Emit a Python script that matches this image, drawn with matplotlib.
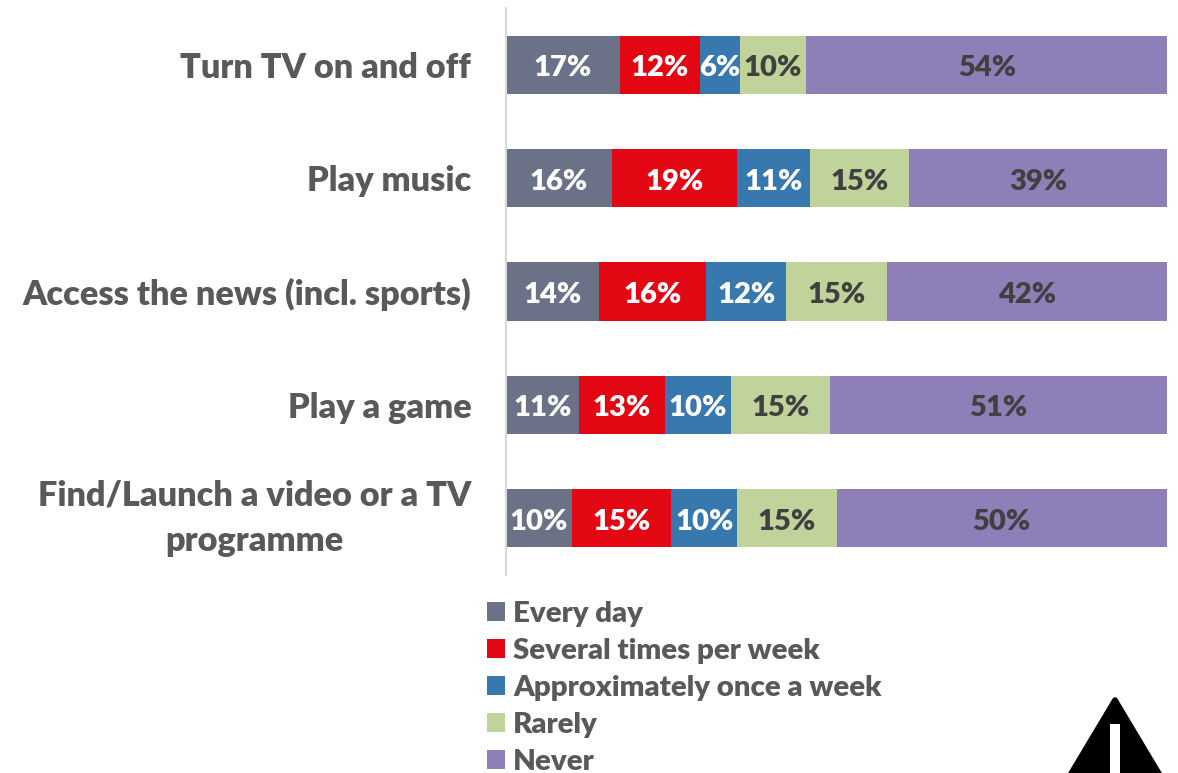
import matplotlib.pyplot as plt
from matplotlib.patches import Polygon, Rectangle
import numpy as np

plt.rcParams['font.family'] = ['Lato', 'DejaVu Sans']
plt.rcParams['font.weight'] = 'heavy'

categories = ['Turn TV on and off', 'Play music', 'Access the news (incl. sports)',
              'Play a game', 'Find/Launch a video or a TV\nprogramme']
series_names = ['Every day', 'Several times per week', 'Approximately once a week', 'Rarely', 'Never']
every_day = [17, 16, 14, 11, 10]
several = [12, 19, 16, 13, 15]
once_week = [6, 11, 12, 10, 10]
rarely = [10, 15, 15, 15, 15]
never = [54, 39, 42, 51, 50]

colors = ['#6B7288', '#E30613', '#3778AE', '#BFD39B', '#8F7FB9']
label_colors = ['white', 'white', 'white', '#404040', '#404040']
W, H = 1178, 773

fig = plt.figure(figsize=(W / 100, H / 100), dpi=100)
ax = fig.add_axes([506 / W, 1 - 575 / H, 661 / W, 567 / H])

rows = np.array([every_day, several, once_week, rarely, never], dtype=float)
totals = rows.sum(axis=0)
y = np.arange(len(categories))
left = np.zeros(len(categories))
handles = []

# stacked to 100% per row
for i, name in enumerate(series_names):
    widths = rows[i] / totals * 100
    bars = ax.barh(y, widths, 0.512, left=left, color=colors[i], label=name)
    handles.append(bars)
    for j in range(len(y)):
        ax.text(left[j] + widths[j] / 2, y[j] + 0.03, '%d%%' % rows[i][j], ha='center', va='center',
                color=label_colors[i], fontsize=21)
    left = left + widths

ax.set_xlim(0, 100)
ax.set_ylim(4.5, -0.5)
ax.set_xticks([])
ax.set_yticks(y)
ax.set_yticklabels(categories, fontsize=24.7, color='#595959', multialignment='center', linespacing=1.5)
# only the two-line label needs plain centering
ax.get_yticklabels()[-1].set_verticalalignment('center')
ax.tick_params(axis='y', length=0, pad=25)
for s in ['top', 'right', 'bottom']:
    ax.spines[s].set_visible(False)
ax.spines['left'].set_color('#D9D9D9')
ax.spines['left'].set_linewidth(1.5)

fig.legend(handles=handles, loc='upper left', bbox_to_anchor=(487 / W, 1 - 601 / H), frameon=False,
           fontsize=21.2, labelcolor='#595959', handlelength=0.62, handleheight=0.62, handletextpad=0.26,
           labelspacing=0.37, borderpad=0, borderaxespad=0)

# warning sign in the lower right corner, cut off by the figure edge
overlay = fig.add_axes([0, 0, 1, 1])
overlay.set_xlim(0, W)
overlay.set_ylim(H, 0)
overlay.axis('off')
overlay.add_patch(Polygon([[1115, 700], [1060, 792], [1170, 792]], closed=True, facecolor='black',
                          edgecolor='black', linewidth=4, joinstyle='round'))
overlay.add_patch(Rectangle((1110, 724), 10, 60, facecolor='white', edgecolor='none'))

fig.savefig('out.png', dpi=100)
